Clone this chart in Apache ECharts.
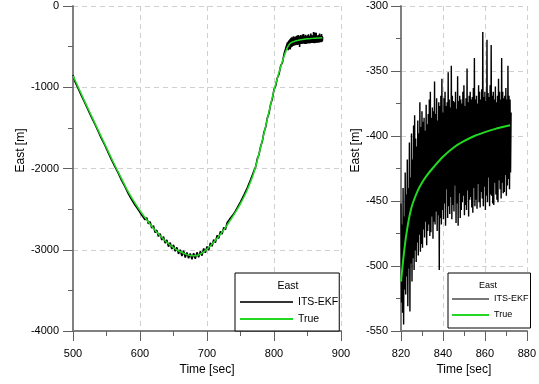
<!DOCTYPE html>
<html>
<head>
<meta charset="utf-8">
<script src="https://cdn.jsdelivr.net/npm/echarts@6/dist/echarts.min.js"></script>
<style>
  html, body { margin: 0; padding: 0; background: #fff; }
  #chart { width: 539px; height: 384px; }
</style>
</head>
<body>
<div id="chart"></div>
<script>
// True trajectory (East, m)
const TRUE_T = [500, 510, 520, 530, 540, 550, 560, 570, 580, 590, 600, 610, 620, 630, 640, 650,
  660, 670, 675, 680, 685, 690, 700, 710, 720, 730, 740, 750, 760, 770, 780, 790, 800, 810, 815, 818,
  820, 821, 822, 823, 824, 825, 826, 828, 830, 832, 835, 840, 845, 850, 855, 860, 865, 872];
const TRUE_V = [-860, -1040, -1220, -1395, -1570, -1745, -1920, -2085, -2250, -2392, -2518, -2630, -2735, -2828, -2908, -2973,
  -3025, -3060, -3071, -3075, -3070, -3055, -2992, -2908, -2810, -2697, -2572, -2432, -2265, -2050, -1742, -1392, -1038, -748, -618, -553,
  -512, -496, -482, -471, -462, -455, -450, -442, -436, -431, -425, -416, -409, -404, -400, -397, -394.5, -391.7];

// ITS-EKF estimate, 500 .. 817.5 s every 2.5 s
const EKF_HEAD_T0 = 500;
const EKF_HEAD_DT = 2.5;
const EKF_HEAD = [
  -850, -925, -935, -1010, -1030, -1103, -1118, -1190, -1205, -1279,
  -1296, -1369, -1380, -1451, -1465, -1541, -1558, -1632, -1643, -1713,
  -1727, -1804, -1821, -1894, -1905, -1976, -1985, -2056, -2070, -2146,
  -2150, -2224, -2230, -2310, -2307, -2383, -2378, -2450, -2436, -2508,
  -2495, -2573, -2553, -2631, -2605, -2681, -2655, -2734, -2705, -2787,
  -2758, -2836, -2802, -2880, -2838, -2918, -2880, -2961, -2913, -2991,
  -2940, -3019, -2971, -3051, -3000, -3077, -3013, -3096, -3033, -3105,
  -3045, -3116, -3043, -3111, -3032, -3092, -3020, -3073, -2985, -3037,
  -2960, -3004, -2916, -2956, -2877, -2912, -2825, -2858, -2775, -2806,
  -2725, -2753, -2667, -2691, -2610, -2634, -2558, -2568, -2485, -2490,
  -2410, -2408, -2327, -2323, -2242, -2221, -2138, -2117, -2030, -1984,
  -1881, -1831, -1728, -1669, -1553, -1493, -1380, -1321, -1206, -1144,
  -1025, -983, -883, -838, -735, -700, -590, -586
];

// ITS-EKF estimate, 820 .. 872.5 s every 0.25 s (zoomed right panel)
const EKF_TAIL_T0 = 820;
const EKF_TAIL_DT = 0.25;
const EKF_TAIL = [
  -452, -528, -468, -536,  -440, -545, -462, -518,  -428, -522, -445, -508,  -418, -531, -440, -502,
  -405, -535, -432, -498,  -398, -512, -418, -494,  -392, -503, -384, -488,  -402, -497, -408, -482,
  -388, -492, -398, -476,  -374, -489, -393, -483,  -381, -486, -389, -472,  -386, -478, -396, -466,
  -376, -484, -391, -473,  -383, -468, -372, -477,  -366, -474, -386, -462,  -378, -479, -381, -466,
  -358, -468, -383, -458,  -371, -473, -388, -461,  -374, -503, -377, -463,  -369, -468, -356, -457,
  -382, -464, -371, -452,  -366, -469, -377, -441,  -374, -463, -351, -454,  -372, -460, -378, -447,
  -346, -464, -369, -453,  -373, -458, -374, -438,  -366, -467, -379, -452,  -354, -469, -373, -444,
  -369, -463, -372, -457,  -375, -451, -366, -446,  -361, -461, -377, -453,  -371, -457, -348, -442,
  -374, -462, -369, -449,  -366, -447, -372, -455,  -370, -459, -363, -440,  -340, -454, -372, -449,
  -369, -456, -375, -437,  -361, -451, -366, -455,  -372, -443, -364, -448,  -320, -454, -370, -439,
  -366, -457, -373, -446,  -326, -451, -367, -432,  -370, -454, -361, -445,  -330, -446, -369, -452,
  -366, -453, -372, -436,  -362, -445, -374, -449,  -369, -451, -356, -434,  -366, -441, -372, -448,
  -340, -436, -366, -444,  -371, -443, -369, -430,  -363, -446, -372, -438,  -346, -433, -369, -441,
  -372, -428, -382
];

const FONT = 'Liberation Sans, Arial, sans-serif';
const GREEN = '#22d822';

const truePts = TRUE_T.map((t, i) => [t, TRUE_V[i]]);
const tailPts = EKF_TAIL.map((v, i) => [EKF_TAIL_T0 + i * EKF_TAIL_DT, v]);
const headPts = EKF_HEAD.map((v, i) => [EKF_HEAD_T0 + i * EKF_HEAD_DT, v]);
const ekfAll = headPts.concat(tailPts);
const trueZoom = truePts.filter((p) => p[0] >= 820);

function valueAxis(extra) {
  return Object.assign({
    type: 'value',
    nameLocation: 'middle',
    nameTextStyle: { fontFamily: FONT, fontSize: 12, color: '#000' },
    axisLine: { show: true, onZero: false, lineStyle: { color: '#808080', width: 2 } },
    axisTick: { show: true, inside: false, length: 10, lineStyle: { color: '#606060', width: 1 } },
    minorTick: { show: true, splitNumber: 2, length: 5, lineStyle: { color: '#606060', width: 1 } },
    splitLine: { show: true, lineStyle: { type: [5, 4], color: '#d0d0d0', width: 1 } },
    minorSplitLine: { show: false }
  }, extra);
}

function tickLabels(margin) {
  return { fontFamily: FONT, fontSize: 11, color: '#000', margin: margin, formatter: (v) => String(v) };
}

const chart = echarts.init(document.getElementById('chart'), null, { renderer: 'canvas' });

chart.setOption({
  animation: false,
  backgroundColor: '#fff',
  grid: [
    { left: 68, top: 6, width: 273, height: 325 },
    { left: 401, top: 6, width: 130, height: 325 }
  ],
  xAxis: [
    valueAxis({ gridIndex: 0, min: 500, max: 900, interval: 100, name: 'Time [sec]', nameGap: 31,
      axisLabel: tickLabels(17) }),
    valueAxis({ gridIndex: 1, min: 820, max: 880, interval: 20, name: 'Time [sec]', nameGap: 31,
      axisLabel: tickLabels(17) })
  ],
  yAxis: [
    valueAxis({ gridIndex: 0, min: -4000, max: 0, interval: 1000, name: 'East [m]', nameGap: 44,
      nameTextStyle: { fontFamily: FONT, fontSize: 12, color: '#000', padding: [0, 0, 0, 36] },
      axisLabel: tickLabels(14) }),
    valueAxis({ gridIndex: 1, min: -550, max: -300, interval: 50, name: 'East [m]', nameGap: 39,
      nameTextStyle: { fontFamily: FONT, fontSize: 12, color: '#000', padding: [0, 0, 0, 36] },
      axisLabel: tickLabels(13) })
  ],
  title: [
    { text: 'East', left: 288, top: 281, textAlign: 'center', padding: 0,
      textStyle: { fontFamily: FONT, fontSize: 10.5, fontWeight: 'normal', color: '#000' } },
    { text: 'East', left: 488, top: 281, textAlign: 'center', padding: 0,
      textStyle: { fontFamily: FONT, fontSize: 9, fontWeight: 'normal', color: '#000' } }
  ],
  legend: [
    {
      left: 235, top: 273, orient: 'vertical',
      padding: [22, 1, 5, 5], itemGap: 3, itemWidth: 53, itemHeight: 2, itemTextGap: 5,
      backgroundColor: '#fff', borderColor: '#000', borderWidth: 1, borderRadius: 0,
      selectedMode: false, icon: 'rect',
      textStyle: { fontFamily: FONT, fontSize: 10.5, lineHeight: 14, color: '#000' },
      data: [
        { name: 'ITS-EKF', icon: 'rect', itemStyle: { color: '#333', borderWidth: 0 } },
        { name: 'True', icon: 'rect', itemStyle: { color: GREEN, borderWidth: 0 } }
      ]
    },
    {
      left: 448, top: 273, orient: 'vertical',
      padding: [20, 2, 7, 4], itemGap: 4, itemWidth: 37, itemHeight: 2, itemTextGap: 4,
      backgroundColor: '#fff', borderColor: '#000', borderWidth: 1, borderRadius: 0,
      selectedMode: false, icon: 'rect',
      formatter: (name) => name.replace('_zoom', ''),
      textStyle: { fontFamily: FONT, fontSize: 9, lineHeight: 12, color: '#000' },
      data: [
        { name: 'ITS-EKF_zoom', icon: 'rect', itemStyle: { color: '#777', borderWidth: 0 } },
        { name: 'True_zoom', icon: 'rect', itemStyle: { color: GREEN, borderWidth: 0 } }
      ]
    }
  ],
  series: [
    { name: 'ITS-EKF', type: 'line', xAxisIndex: 0, yAxisIndex: 0, data: ekfAll,
      symbol: 'none', lineStyle: { color: '#000', width: 1.6 }, itemStyle: { color: '#000' } },
    { name: 'True', type: 'line', xAxisIndex: 0, yAxisIndex: 0, data: truePts,
      symbol: 'none', smooth: 0.2, lineStyle: { color: GREEN, width: 1.5 }, itemStyle: { color: GREEN } },
    { name: 'ITS-EKF_zoom', type: 'line', xAxisIndex: 1, yAxisIndex: 1, data: tailPts,
      symbol: 'none', lineStyle: { color: '#000', width: 1.4 }, itemStyle: { color: '#000' } },
    { name: 'True_zoom', type: 'line', xAxisIndex: 1, yAxisIndex: 1, data: trueZoom,
      symbol: 'none', smooth: 0.2, lineStyle: { color: GREEN, width: 2 }, itemStyle: { color: GREEN } }
  ]
});
</script>
</body>
</html>
